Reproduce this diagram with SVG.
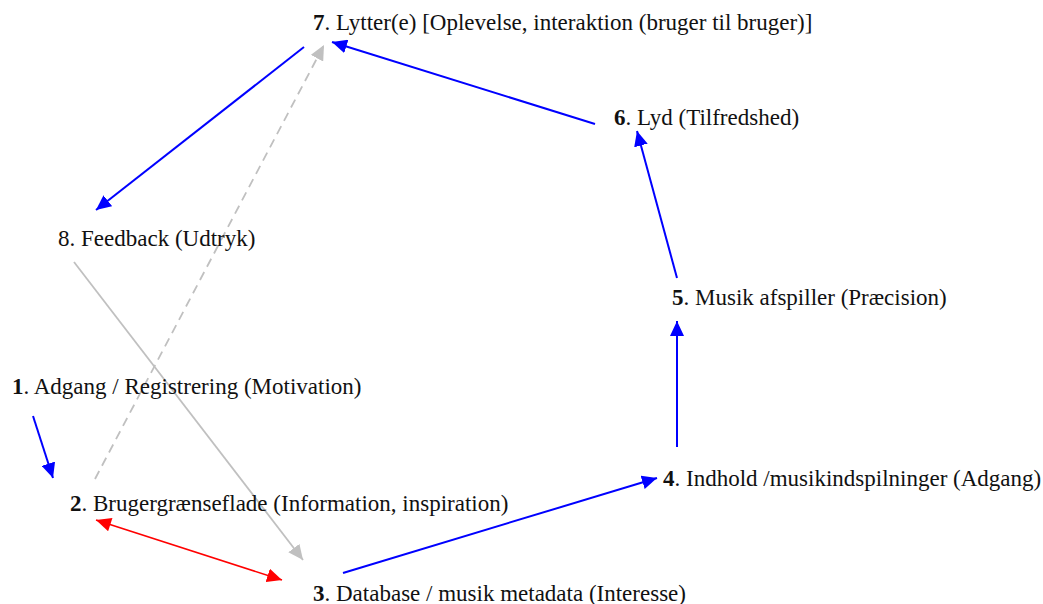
<svg xmlns="http://www.w3.org/2000/svg" width="1043" height="604" viewBox="0 0 1043 604">
<style>
text{font-family:"Liberation Serif","Times New Roman",serif;font-size:23px;fill:#111}
.n{font-weight:bold}
.b{stroke:#0000ff;stroke-width:2;fill:none}
.r{stroke:#ff0000;stroke-width:1.6;fill:none}
.g{stroke:#c0c0c0;stroke-width:1.8;fill:none}
.d{stroke-dasharray:9,6}
</style>
<defs>
<marker id="ab" markerUnits="userSpaceOnUse" markerWidth="16" markerHeight="14" refX="15" refY="7" orient="auto"><path d="M0,0 L15,7 L0,14 Z" fill="#0000ff"/></marker>
<marker id="ar" markerUnits="userSpaceOnUse" markerWidth="16" markerHeight="14" refX="15" refY="7" orient="auto"><path d="M0,0 L15,7 L0,14 Z" fill="#ff0000"/></marker>
<marker id="ars" markerUnits="userSpaceOnUse" markerWidth="16" markerHeight="14" refX="0" refY="7" orient="auto"><path d="M15,0 L0,7 L15,14 Z" fill="#ff0000"/></marker>
<marker id="ag" markerUnits="userSpaceOnUse" markerWidth="16" markerHeight="14" refX="15" refY="7" orient="auto"><path d="M0,0 L15,7 L0,14 Z" fill="#c0c0c0"/></marker>
</defs>
<rect width="1043" height="604" fill="#fff"/>
<g id="connectors">
<line class="g d" x1="95" y1="479" x2="324" y2="45" marker-end="url(#ag)"/>
<line class="g" x1="74" y1="262" x2="303" y2="560" marker-end="url(#ag)"/>
<line class="b" x1="304" y1="47" x2="96" y2="210" marker-end="url(#ab)"/>
<line class="b" x1="595" y1="124" x2="332" y2="42" marker-end="url(#ab)"/>
<line class="b" x1="677" y1="278" x2="637" y2="131" marker-end="url(#ab)"/>
<line class="b" x1="677" y1="447" x2="677" y2="321" marker-end="url(#ab)"/>
<line class="b" x1="343" y1="573" x2="657" y2="478" marker-end="url(#ab)"/>
<line class="b" x1="33" y1="416" x2="53" y2="478" marker-end="url(#ab)"/>
<line class="r" x1="96" y1="520" x2="282" y2="580" marker-start="url(#ars)" marker-end="url(#ar)"/>
</g>
<g id="node7"><text x="313" y="30"><tspan class="n">7</tspan>. Lytter(e) [Oplevelse, interaktion (bruger til bruger)]</text></g>
<g id="node6"><text x="614" y="125"><tspan class="n">6</tspan>. Lyd (Tilfredshed)</text></g>
<g id="node8"><text x="58" y="246">8. Feedback (Udtryk)</text></g>
<g id="node5"><text x="672" y="305"><tspan class="n">5</tspan>. Musik afspiller (Præcision)</text></g>
<g id="node1"><text x="12" y="394"><tspan class="n">1</tspan>. Adgang / Registrering (Motivation)</text></g>
<g id="node4"><text x="663" y="486"><tspan class="n">4</tspan>. Indhold /musikindspilninger (Adgang)</text></g>
<g id="node2"><text x="70" y="511"><tspan class="n">2</tspan>. Brugergrænseflade (Information, inspiration)</text></g>
<g id="node3"><text x="313" y="601"><tspan class="n">3</tspan>. Database / musik metadata (Interesse)</text></g>
</svg>
